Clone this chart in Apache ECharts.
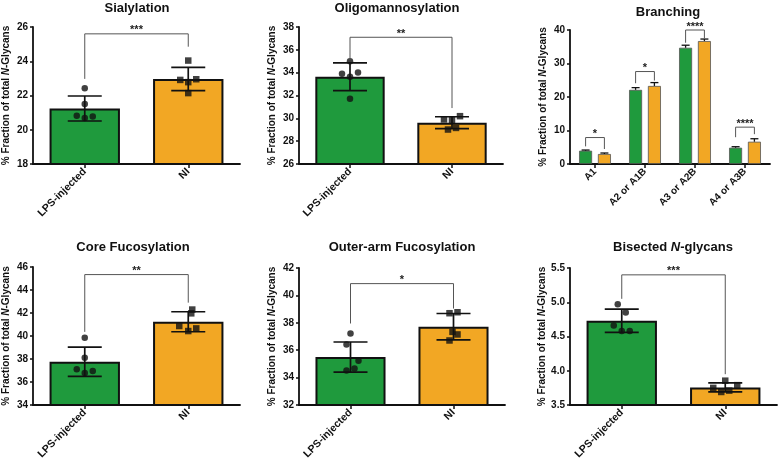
<!DOCTYPE html>
<html><head><meta charset="utf-8">
<script src="https://cdn.jsdelivr.net/npm/echarts@6/dist/echarts.min.js"></script>
<style>html,body{margin:0;padding:0;background:#fff}#c{width:778px;height:464px}</style>
</head><body><div id="c"></div>
<script>
// ---------- data ----------
const groups = ['LPS-injected', 'NI'];
const branchCats = ['A1', 'A2 or A1B', 'A3 or A2B', 'A4 or A3B'];

const sialMean = [21.24, 22.96];
const sialSD = [0.73, 0.68];
const sialLPS = [22.43, 21.50, 20.82, 20.68, 20.78];
const sialNI = [24.04, 22.91, 22.78, 22.95, 22.14];
const sialTicks = [18, 26, 2];

const oligoMean = [33.64, 29.62];
const oligoSD = [1.22, 0.52];
const oligoLPS = [35.01, 33.90, 33.64, 34.02, 31.71];
const oligoNI = [29.90, 29.87, 30.19, 29.02, 29.16];
const oligoTicks = [26, 38, 2];

const coreMean = [37.76, 41.24];
const coreSD = [1.27, 0.87];
const coreLPS = [39.84, 38.10, 37.10, 36.78, 36.95];
const coreNI = [42.30, 41.97, 40.87, 40.43, 40.66];
const coreTicks = [34, 46, 2];

const outerMean = [35.50, 37.72];
const outerSD = [1.10, 0.96];
const outerLPS = [37.22, 36.42, 35.23, 34.67, 34.52];
const outerNI = [38.70, 38.77, 37.34, 37.15, 36.71];
const outerTicks = [32, 42, 2];

const bisMean = [4.73, 3.757];
const bisSD = [0.17, 0.065];
const bisLPS = [4.97, 4.85, 4.66, 4.58, 4.58];
const bisNI = [3.855, 3.75, 3.79, 3.69, 3.71];
const bisTicks = [3.5, 5.5, 0.5];

const branchLPS = [3.97, 22.13, 34.7, 4.86];
const branchLPSsd = [0.2, 0.67, 0.76, 0.3];
const branchNI = [2.98, 23.3, 36.7, 6.65];
const branchNIsd = [0.3, 1.0, 0.6, 0.89];
const branchTicks = [0, 40, 10];

// significance brackets: [top, left end, right end]
const sialSig = [25.6, 22.97, 24.85];
const oligoSig = [37.1, 35.1, 30.9];
const coreSig = [45.34, 40.36, 42.9];
const outerSig = [40.86, 37.95, 39.04];
const bisSig = [5.4, 5.05, 3.95];
const branchSig = [[7.9, 5.26, 4.47], [27.6, 24.1, 24.9], [40.0, 36.2, 37.5], [11.0, 8.0, 8.9]];
const sialStars = '***', oligoStars = '**', coreStars = '**', outerStars = '*', bisStars = '***';
const branchStars = ['*', '*', '****', '****'];

// ---------- style / layout ----------
const COLORS = ['#1f9a3d', '#f2a724'];
const FONT = '"Liberation Sans", Arial, Helvetica, sans-serif';
const INK = '#111';

const panels = [
  {title: 'Sialylation', tx: 137, ty: 8, grid: {left: 33, top: 27, width: 207, height: 137},
   mean: sialMean, sd: sialSD, lps: sialLPS, ni: sialNI, ticks: sialTicks, sig: sialSig, stars: sialStars,
   jl: [0, 0, -8, 0, 8], jn: [0, -8, 0, 8, 0], dec: 0},
  {title: 'Oligomannosylation', tx: 397, ty: 8, grid: {left: 299, top: 27, width: 204, height: 137},
   mean: oligoMean, sd: oligoSD, lps: oligoLPS, ni: oligoNI, ticks: oligoTicks, sig: oligoSig, stars: oligoStars,
   jl: [0, -8, 0, 8, 0], jn: [-8, 0, 8, -4, 4], dec: 0},
  {title: 'Core Fucosylation', tx: 133, ty: 247, grid: {left: 33, top: 267, width: 207, height: 138},
   mean: coreMean, sd: coreSD, lps: coreLPS, ni: coreNI, ticks: coreTicks, sig: coreSig, stars: coreStars,
   jl: [0, 0, -8, 0, 8], jn: [4, 3, -9, 0, 8], dec: 0},
  {title: 'Outer-arm Fucosylation', tx: 402, ty: 247, grid: {left: 299, top: 268, width: 206, height: 137},
   mean: outerMean, sd: outerSD, lps: outerLPS, ni: outerNI, ticks: outerTicks, sig: outerSig, stars: outerStars,
   jl: [0, -4, 8, 4, -4], jn: [-4, 4, -1, 4, -4], dec: 0},
  {title: 'Bisected {i|N}-glycans', tx: 673, ty: 247, grid: {left: 570, top: 268, width: 207, height: 137},
   mean: bisMean, sd: bisSD, lps: bisLPS, ni: bisNI, ticks: bisTicks, sig: bisSig, stars: bisStars,
   jl: [-4, 4, -8, 0, 8], jn: [0, -12, 12, -4, 4], dec: 1}
];
const branchGrid = {left: 570, top: 30, width: 200, height: 134};
const BR_OFF = 9.4;

const grids = [], xAxes = [], yAxes = [], series = [], graphics = [];

function yAxisFor(gi, ticks, dec) {
  return {
    gridIndex: gi, type: 'value', min: ticks[0], max: ticks[1], interval: ticks[2],
    name: '% Fraction of total {i|N}-Glycans', nameLocation: 'middle', nameGap: 22,
    nameTextStyle: {fontFamily: FONT, fontWeight: 'bold', fontSize: 10, color: INK,
      rich: {i: {fontFamily: FONT, fontWeight: 'bold', fontStyle: 'italic', fontSize: 10, color: INK}}},
    axisLine: {show: true, lineStyle: {color: INK, width: 1.8}},
    axisTick: {show: true, length: 3, lineStyle: {color: INK, width: 1.5}},
    axisLabel: {margin: 5, fontFamily: FONT, fontWeight: 'bold', fontSize: 10, color: INK,
      formatter: v => v.toFixed(dec)},
    splitLine: {show: false}
  };
}
function xAxisFor(gi, cats, fs) {
  return {
    gridIndex: gi, type: 'category', data: cats,
    axisLine: {show: true, lineStyle: {color: INK, width: 1.8}},
    axisTick: {show: true, alignWithLabel: true, length: 4, lineStyle: {color: INK, width: 1.5}},
    axisLabel: {rotate: 45, margin: 6, fontFamily: FONT, fontWeight: 'bold', fontSize: fs, color: INK, interval: 0}
  };
}

function errRender(half, offPx, upperOnly, lw) {
  return function (params, api) {
    const x = api.value(0), m = api.value(1), s = api.value(2);
    const hi = api.coord([x, m + s]);
    const lo = api.coord([x, upperOnly ? m : m - s]);
    const cx = hi[0] + offPx;
    const st = {stroke: INK, lineWidth: lw};
    const ch = [
      {type: 'line', shape: {x1: cx, y1: hi[1], x2: cx, y2: lo[1]}, style: st},
      {type: 'line', shape: {x1: cx - half, y1: hi[1], x2: cx + half, y2: hi[1]}, style: st}
    ];
    if (!upperOnly) ch.push({type: 'line', shape: {x1: cx - half, y1: lo[1], x2: cx + half, y2: lo[1]}, style: st});
    return {type: 'group', children: ch};
  };
}
function sigRender(starsArr, offL, offR) {
  return function (params, api) {
    const xl = api.value(0), xr = api.value(1);
    const t = api.value(2), le = api.value(3), re = api.value(4);
    const pL = api.coord([xl, t]), pR = api.coord([xr, t]);
    const pLe = api.coord([xl, le]), pRe = api.coord([xr, re]);
    const L = pL[0] + offL, R = pR[0] + offR;
    return {type: 'group', children: [
      {type: 'polyline', shape: {points: [[L, pLe[1]], [L, pL[1]], [R, pR[1]], [R, pRe[1]]]},
        style: {stroke: '#555', lineWidth: 1, fill: null}},
      {type: 'text', style: {text: starsArr[params.dataIndex], x: (L + R) / 2, y: pL[1] + 2,
        align: 'center', verticalAlign: 'bottom', fontFamily: FONT, fontWeight: 'bold', fontSize: 11, fill: '#222'}}
    ]};
  };
}

panels.forEach((p, gi) => {
  grids.push(Object.assign({containLabel: false}, p.grid));
  xAxes.push(xAxisFor(gi, groups, 10.5));
  yAxes.push(yAxisFor(gi, p.ticks, p.dec));
  series.push({
    type: 'bar', xAxisIndex: gi, yAxisIndex: gi, barWidth: '68%', z: 2,
    data: p.mean.map((v, k) => ({value: v, itemStyle: {color: COLORS[k]}})),
    itemStyle: {borderColor: INK, borderWidth: 2}, silent: true
  });
  series.push({
    type: 'custom', xAxisIndex: gi, yAxisIndex: gi, z: 4, silent: true,
    renderItem: errRender(17, 0, false, 1.7),
    data: p.mean.map((v, k) => [k, v, p.sd[k]])
  });
  series.push({
    type: 'scatter', xAxisIndex: gi, yAxisIndex: gi, symbol: 'circle', symbolSize: 6.5, z: 5, silent: true,
    itemStyle: {color: INK},
    data: p.lps.map((v, k) => ({value: [0, v], symbolOffset: [p.jl[k], 0]}))
  });
  series.push({
    type: 'scatter', xAxisIndex: gi, yAxisIndex: gi, symbol: 'rect', symbolSize: 6.5, z: 5, silent: true,
    itemStyle: {color: INK},
    data: p.ni.map((v, k) => ({value: [1, v], symbolOffset: [p.jn[k], 0]}))
  });
  series.push({
    type: 'custom', xAxisIndex: gi, yAxisIndex: gi, z: 6, silent: true, clip: false,
    renderItem: sigRender([p.stars], 0, 0),
    data: [[0, 1, p.sig[0], p.sig[1], p.sig[2]]]
  });
  graphics.push({type: 'text', x: p.tx, y: p.ty, silent: true,
    style: {text: p.title, align: 'center', verticalAlign: 'middle', fontFamily: FONT, fontWeight: 'bold', fontSize: 13, fill: INK,
      rich: {i: {fontFamily: FONT, fontWeight: 'bold', fontStyle: 'italic', fontSize: 13, fill: INK}}}});
});

// Branching panel
const bg = grids.length;
grids.push(Object.assign({containLabel: false}, branchGrid));
xAxes.push(xAxisFor(bg, branchCats, 10));
yAxes.push(yAxisFor(bg, branchTicks, 0));
[[branchLPS, branchLPSsd, -BR_OFF], [branchNI, branchNIsd, BR_OFF]].forEach((s, k) => {
  series.push({
    type: 'bar', xAxisIndex: bg, yAxisIndex: bg, barWidth: 13, barGap: '45%', z: 2, silent: true,
    itemStyle: {color: COLORS[k], borderColor: '#555', borderWidth: 0.8},
    data: s[0]
  });
  series.push({
    type: 'custom', xAxisIndex: bg, yAxisIndex: bg, z: 4, silent: true,
    renderItem: errRender(4, s[2], true, 1.3),
    data: s[0].map((v, i) => [i, v, s[1][i]])
  });
});
series.push({
  type: 'custom', xAxisIndex: bg, yAxisIndex: bg, z: 6, silent: true, clip: false,
  renderItem: sigRender(branchStars, -BR_OFF, BR_OFF),
  data: branchSig.map((b, i) => [i, i, b[0], b[1], b[2]])
});
graphics.push({type: 'text', x: 668, y: 12, silent: true,
  style: {text: 'Branching', align: 'center', verticalAlign: 'middle', fontFamily: FONT, fontWeight: 'bold', fontSize: 13, fill: INK}});

const chart = echarts.init(document.getElementById('c'), null, {renderer: 'canvas'});
chart.setOption({
  animation: false,
  backgroundColor: '#fff',
  grid: grids, xAxis: xAxes, yAxis: yAxes, series: series, graphic: graphics
});
</script>
</body></html>
